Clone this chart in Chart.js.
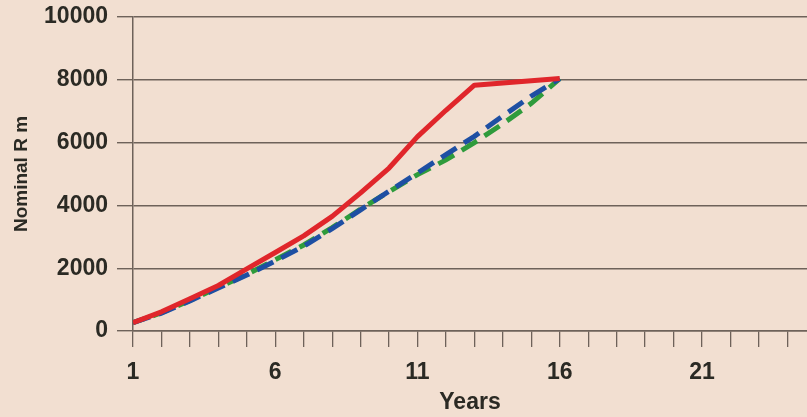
<!DOCTYPE html>
<html>
<head>
<meta charset="utf-8">
<script src="https://cdn.jsdelivr.net/npm/chart.js@4.4.0/dist/chart.umd.min.js"></script>
<style>
  html, body { margin: 0; padding: 0; background: #f2dfd1; }
  #wrap { width: 807px; height: 417px; }
</style>
</head>
<body>
<div id="wrap"><canvas id="myChart" width="807" height="417"></canvas></div>
<script>
// years 1..16, values in nominal R m
const years = [1, 2, 3, 4, 5, 6, 7, 8, 9, 10, 11, 12, 13, 14, 15, 16]
const redSeries = [265, 610, 1030, 1450, 1980, 2500, 3030, 3650, 4400, 5190, 6190, 7030, 7830, 7900, 7970, 8040]
const blueSeries = [265, 570, 960, 1370, 1780, 2230, 2700, 3260, 3860, 4450, 5030, 5620, 6200, 6850, 7480, 8040]
const greenSeries = [265, 580, 970, 1390, 1800, 2270, 2740, 3290, 3880, 4440, 4980, 5450, 6000, 6600, 7250, 8040]
const yTicks = [0, 2000, 4000, 6000, 8000, 10000]
const xLabelled = [1, 6, 11, 16, 21]

const toPoints = arr => arr.map((v, i) => ({ x: years[i], y: v }))
const ink = '#2b2a24'
const gridCol = '#6e625a'
const font = 'Liberation Sans, Arial'

const bg = {
  id: 'bg',
  beforeDraw (chart) {
    const ctx = chart.ctx
    ctx.save()
    ctx.fillStyle = '#f2dfd1'
    ctx.fillRect(0, 0, chart.width, chart.height)
    ctx.restore()
  }
}

new Chart(document.getElementById('myChart').getContext('2d'), {
  type: 'line',
  data: {
    datasets: [
      { label: 'A', data: toPoints(redSeries), borderColor: '#e0262b', borderWidth: 5, pointRadius: 0, borderJoinStyle: 'round', order: 0 },
      { label: 'B', data: toPoints(blueSeries), borderColor: '#1e4fa3', borderWidth: 5, borderDash: [18, 9], pointRadius: 0, order: 1 },
      { label: 'C', data: toPoints(greenSeries), borderColor: '#2f9b3c', borderWidth: 5, borderDash: [18, 9], borderDashOffset: 6, pointRadius: 0, order: 2 }
    ]
  },
  options: {
    responsive: false,
    animation: false,
    layout: { padding: { top: 17, right: 0, left: 0, bottom: 0 } },
    plugins: { legend: { display: false }, tooltip: { enabled: false } },
    scales: {
      x: {
        type: 'linear',
        min: 1,
        max: 24.69,
        afterFit (scale) {
          scale.height = 86
          scale.paddingLeft = 0
          scale.paddingRight = 0
        },
        afterBuildTicks (scale) {
          const t = []
          for (let v = 1; v <= 24; v++) t.push({ value: v })
          scale.ticks = t
        },
        ticks: {
          autoSkip: false,
          maxRotation: 0,
          padding: 12,
          color: ink,
          font: { family: font, size: 23, weight: 'bold' },
          callback: v => (xLabelled.includes(v) ? String(v) : '')
        },
        grid: { drawOnChartArea: false, tickLength: 16, color: gridCol, lineWidth: 1.3 },
        border: { color: gridCol, width: 1.5 },
        title: { display: true, text: 'Years', color: ink, font: { family: font, size: 23, weight: 'bold' }, padding: { top: 0, bottom: 1 } }
      },
      y: {
        min: 0,
        max: 10000,
        afterFit (scale) {
          scale.width = 133
          scale.paddingTop = 0
          scale.paddingBottom = 0
        },
        afterBuildTicks (scale) { scale.ticks = yTicks.map(v => ({ value: v })) },
        ticks: {
          padding: 9,
          color: ink,
          font: { family: font, size: 23, weight: 'bold' },
          callback: v => String(v)
        },
        grid: { tickLength: 16, color: gridCol, lineWidth: 1.4 },
        border: { color: gridCol, width: 1.5 },
        title: { display: true, text: 'Nominal R m', color: ink, font: { family: font, size: 19, weight: 'bold' }, padding: { top: 10, bottom: 0 } }
      }
    }
  },
  plugins: [bg]
})
</script>
</body>
</html>
